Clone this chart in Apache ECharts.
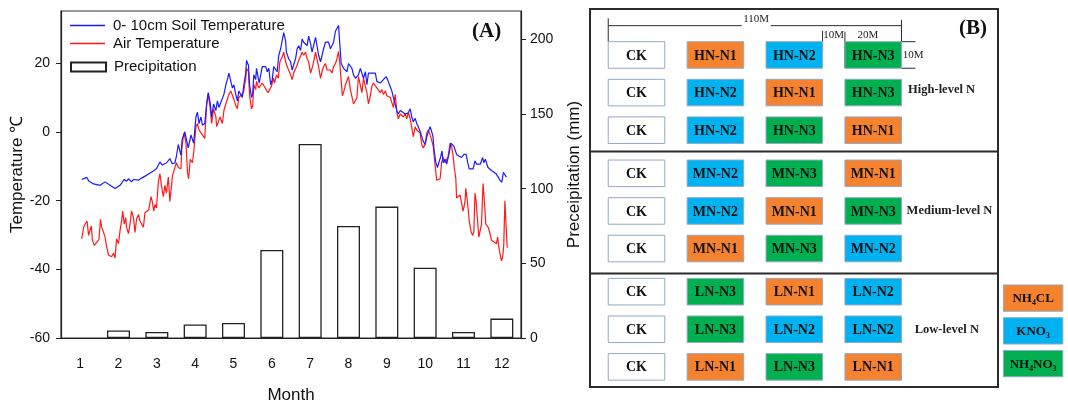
<!DOCTYPE html>
<html>
<head>
<meta charset="utf-8">
<script src="https://cdn.jsdelivr.net/npm/echarts@6/dist/echarts.min.js"></script>
<style>
html,body{margin:0;padding:0;background:#fff;}
#chart{width:1068px;height:409px;}
</style>
</head>
<body>
<div id="chart"></div>
<script>
// ---------------- Panel A data ----------------
const months = ['1','2','3','4','5','6','7','8','9','10','11','12'];
const precipitation = [0, 5, 4, 9, 10, 59, 130, 75, 88, 47, 4, 13]; // mm
const leftTicks = {min: -60, step: 20};
const rightTicks = {min: 0, step: 50};

// [month position, temperature °C]
const soilTemp = [
[1.04,-13.8],[1.17,-13.2],[1.23,-14.3],[1.35,-15.1],[1.52,-15.5],[1.65,-14.5],[1.82,-15.8],[1.91,-16.4],[2.04,-15.5],[2.15,-13.8],[2.21,-14.3],[2.26,-13.6],[2.34,-14.5],[2.39,-13.8],[2.52,-14.0],[2.60,-13.4],[2.73,-12.6],[2.91,-11.3],[2.99,-10.7],[3.08,-8.7],[3.14,-9.6],[3.25,-9.0],[3.34,-7.7],[3.40,-9.2],[3.47,-9.0],[3.51,-7.1],[3.56,-3.6],[3.63,-6.8],[3.66,-2.2],[3.73,0.1],[3.82,-4.6],[3.89,-0.8],[3.96,-3.2],[4.02,4.4],[4.06,5.8],[4.10,2.5],[4.15,4.4],[4.19,2.0],[4.25,2.5],[4.30,8.2],[4.34,11.5],[4.39,8.7],[4.43,4.4],[4.48,8.2],[4.54,6.3],[4.58,9.1],[4.62,7.2],[4.67,8.7],[4.71,8.2],[4.75,11.0],[4.80,13.8],[4.84,15.3],[4.88,17.2],[4.93,14.8],[4.97,12.9],[5.01,13.8],[5.06,11.0],[5.10,9.1],[5.14,12.0],[5.23,10.1],[5.27,13.8],[5.32,17.2],[5.34,20.9],[5.39,19.5],[5.42,13.8],[5.47,10.1],[5.50,11.0],[5.53,16.7],[5.58,15.3],[5.60,18.6],[5.67,14.3],[5.71,14.8],[5.75,19.1],[5.79,18.6],[5.84,19.1],[5.88,17.6],[5.92,18.6],[5.97,13.8],[6.01,15.3],[6.05,19.1],[6.10,19.5],[6.14,17.6],[6.18,22.4],[6.23,24.3],[6.31,29.0],[6.36,26.6],[6.38,23.3],[6.44,21.4],[6.49,20.5],[6.53,18.1],[6.62,21.4],[6.66,24.3],[6.70,25.2],[6.75,23.8],[6.79,27.1],[6.83,26.2],[6.92,25.2],[6.96,28.0],[7.01,25.7],[7.05,23.3],[7.14,27.6],[7.18,28.0],[7.22,22.4],[7.27,20.5],[7.35,24.3],[7.40,26.2],[7.48,26.2],[7.53,24.3],[7.61,26.2],[7.66,29.4],[7.74,31.1],[7.77,26.2],[7.81,20.0],[7.87,18.6],[7.96,17.6],[8.00,20.0],[8.09,18.6],[8.13,16.7],[8.18,15.7],[8.26,16.7],[8.31,18.6],[8.39,15.7],[8.44,17.6],[8.48,13.8],[8.52,17.2],[8.61,17.2],[8.70,17.2],[8.74,14.8],[8.83,14.3],[8.98,16.2],[9.02,15.3],[9.07,13.8],[9.13,12.0],[9.17,10.1],[9.26,6.3],[9.30,5.3],[9.35,6.3],[9.40,6.8],[9.48,5.3],[9.55,5.5],[9.61,6.8],[9.65,4.4],[9.69,3.0],[9.74,4.0],[9.78,2.5],[9.82,1.6],[9.87,0.1],[9.95,-2.7],[10.00,-3.6],[10.04,-1.5],[10.08,0.1],[10.13,1.6],[10.17,0.1],[10.20,-1.0],[10.23,-5.0],[10.28,-8.9],[10.32,-10.3],[10.37,-8.4],[10.40,-7.4],[10.44,-5.5],[10.47,-8.9],[10.52,-7.9],[10.56,-9.3],[10.63,-6.0],[10.67,-3.2],[10.72,-2.7],[10.75,-4.1],[10.82,-6.5],[10.89,-7.0],[10.95,-7.4],[11.01,-6.5],[11.07,-6.5],[11.11,-8.9],[11.15,-10.7],[11.20,-11.2],[11.25,-10.7],[11.30,-8.4],[11.34,-9.3],[11.38,-9.8],[11.44,-9.3],[11.50,-7.4],[11.53,-8.9],[11.57,-7.9],[11.61,-9.3],[11.64,-10.3],[11.69,-10.7],[11.73,-11.2],[11.85,-12.1],[11.95,-14.0],[12.00,-14.6],[12.04,-11.7],[12.12,-13.1]
];
const airTemp = [
[1.04,-31.1],[1.09,-27.8],[1.13,-26.8],[1.18,-25.9],[1.22,-30.1],[1.26,-30.6],[1.29,-27.3],[1.32,-31.5],[1.37,-33.0],[1.41,-33.4],[1.44,-32.0],[1.49,-31.3],[1.53,-25.4],[1.56,-27.7],[1.61,-29.2],[1.65,-30.6],[1.69,-33.4],[1.74,-35.8],[1.82,-36.3],[1.87,-35.3],[1.91,-36.7],[1.95,-31.1],[2.00,-32.5],[2.04,-28.7],[2.08,-25.9],[2.11,-23.0],[2.15,-26.8],[2.19,-24.9],[2.21,-27.7],[2.26,-29.6],[2.30,-26.8],[2.34,-23.0],[2.39,-24.9],[2.43,-29.2],[2.47,-25.4],[2.52,-24.0],[2.56,-25.9],[2.60,-25.4],[2.65,-27.7],[2.69,-23.5],[2.73,-23.0],[2.79,-22.6],[2.85,-18.8],[2.88,-20.2],[2.92,-23.0],[2.95,-21.1],[2.99,-22.1],[3.04,-14.5],[3.08,-12.1],[3.12,-15.5],[3.17,-18.8],[3.21,-15.5],[3.25,-17.8],[3.30,-13.1],[3.34,-20.2],[3.38,-15.9],[3.41,-12.6],[3.45,-12.1],[3.51,-8.9],[3.56,-10.3],[3.63,-10.7],[3.65,-5.0],[3.69,-1.3],[3.71,-0.3],[3.76,-3.2],[3.80,-11.7],[3.83,-13.6],[3.87,-7.9],[3.93,-8.9],[3.97,-5.0],[4.02,1.6],[4.06,2.5],[4.10,0.6],[4.19,-0.8],[4.25,-1.8],[4.30,8.2],[4.34,11.0],[4.39,7.2],[4.43,2.5],[4.48,6.8],[4.54,4.4],[4.56,1.6],[4.60,1.1],[4.65,4.4],[4.71,2.5],[4.75,6.3],[4.80,8.2],[4.84,8.7],[4.88,11.0],[4.93,12.0],[5.01,9.6],[5.06,7.7],[5.10,6.8],[5.14,10.1],[5.26,11.5],[5.32,15.7],[5.34,18.6],[5.39,17.6],[5.42,10.6],[5.47,6.8],[5.50,7.7],[5.53,13.8],[5.58,12.4],[5.60,14.8],[5.66,12.9],[5.75,14.3],[5.79,14.8],[5.90,11.5],[5.95,11.0],[5.99,13.4],[6.04,15.7],[6.07,14.3],[6.12,16.7],[6.17,15.7],[6.21,20.5],[6.27,21.9],[6.31,23.3],[6.36,20.5],[6.40,19.1],[6.49,16.7],[6.53,15.3],[6.57,17.2],[6.66,19.5],[6.70,20.9],[6.75,21.4],[6.79,23.3],[6.83,22.4],[6.88,23.3],[6.92,21.4],[6.96,20.5],[7.01,17.2],[7.05,18.6],[7.09,20.5],[7.14,23.3],[7.18,22.8],[7.22,19.1],[7.27,15.7],[7.31,17.6],[7.35,19.1],[7.40,20.0],[7.44,18.1],[7.53,18.1],[7.57,17.2],[7.61,19.1],[7.66,20.0],[7.70,21.4],[7.74,23.5],[7.77,20.5],[7.81,14.8],[7.84,10.6],[7.87,11.5],[7.92,13.8],[7.96,14.3],[8.00,16.2],[8.05,12.4],[8.09,12.0],[8.13,8.2],[8.18,7.7],[8.22,10.1],[8.26,16.2],[8.31,15.7],[8.35,11.5],[8.39,15.7],[8.44,16.2],[8.48,11.5],[8.52,8.2],[8.57,10.6],[8.61,13.4],[8.65,14.3],[8.70,14.8],[8.74,12.9],[8.83,11.5],[8.87,12.4],[8.91,11.0],[8.96,12.0],[9.00,10.6],[9.09,10.1],[9.13,9.6],[9.17,7.2],[9.22,11.0],[9.26,5.8],[9.30,3.9],[9.35,5.3],[9.43,4.4],[9.48,5.3],[9.52,3.9],[9.56,5.8],[9.61,3.9],[9.65,3.5],[9.69,-1.3],[9.74,1.6],[9.78,0.6],[9.87,-0.3],[9.91,-3.6],[9.95,-4.6],[10.00,-3.6],[10.04,-0.3],[10.08,0.6],[10.13,-0.8],[10.17,-1.3],[10.21,-4.1],[10.26,-9.8],[10.30,-14.0],[10.34,-14.5],[10.39,-13.6],[10.43,-8.9],[10.47,-7.4],[10.52,-8.9],[10.56,-9.3],[10.60,-7.0],[10.65,-3.2],[10.69,-4.1],[10.73,-7.0],[10.76,-10.3],[10.80,-13.6],[10.82,-19.2],[10.86,-19.2],[10.91,-18.3],[10.95,-20.7],[10.99,-23.0],[11.04,-20.2],[11.06,-16.4],[11.11,-21.1],[11.15,-25.9],[11.20,-29.2],[11.24,-30.1],[11.27,-29.0],[11.30,-17.8],[11.33,-20.0],[11.36,-24.9],[11.40,-30.6],[11.45,-30.6],[11.47,-26.8],[11.51,-15.0],[11.54,-19.2],[11.58,-26.8],[11.62,-27.3],[11.65,-27.8],[11.69,-29.6],[11.73,-31.5],[11.77,-31.9],[11.86,-32.5],[11.89,-30.6],[11.92,-33.4],[11.95,-35.3],[11.99,-37.5],[12.02,-36.5],[12.05,-33.0],[12.08,-20.0],[12.11,-27.1],[12.14,-33.7]
];

// ---------------- Panel B data ----------------
const plotRows = [
  ['CK','HN-N1','HN-N2','HN-N3'],
  ['CK','HN-N2','HN-N1','HN-N3'],
  ['CK','HN-N2','HN-N3','HN-N1'],
  ['CK','MN-N2','MN-N3','MN-N1'],
  ['CK','MN-N2','MN-N1','MN-N3'],
  ['CK','MN-N1','MN-N3','MN-N2'],
  ['CK','LN-N3','LN-N1','LN-N2'],
  ['CK','LN-N3','LN-N2','LN-N2'],
  ['CK','LN-N1','LN-N3','LN-N1']
];
const levelNames = ['High-level N','Medium-level N','Low-level N'];
const fertilizerNames = ['NH\u2084CL','KNO\u2083','NH\u2084NO\u2083']; // N1, N2, N3
const scaleLabels = {total:'110M', gap:'10M', plot:'20M', depth:'10M'};
const plotSizeM = {width:20, gap:10, total:110, depth:10};

// ---------------- layout (field units, metres) ----------------
const colPitch = plotSizeM.width + plotSizeM.gap;     // 30 M
const cellW = 21.5, cellH = 10.1;
const rowPitch = 14.3, groupPitch = 45;
const cx = c => c * colPitch + plotSizeM.width / 2;
const cy = r => Math.floor(r / 3) * groupPitch + (r % 3) * rowPitch + cellH / 2;
const fertColors = {N1:'#F5822F', N2:'#00B2EF', N3:'#00B050'};
const colorOf = lab => lab === 'CK' ? '#FFFFFF' : fertColors[lab.slice(-2)];

const cellData = [], cellLabels = [], cellColors = [];
plotRows.forEach((row, r) => row.forEach((lab, c) => {
  cellData.push([cx(c), cy(r)]); cellLabels.push(lab); cellColors.push(colorOf(lab));
}));
const legendX = 160.8;
fertilizerNames.forEach((lab, k) => {
  cellData.push([legendX, 97.5 + 12.45 * k]); cellLabels.push(lab); cellColors.push(fertColors['N' + (k + 1)]);
});

const xMinB = -7.68, xMaxB = 147.45, yMinB = -12.43, yMaxB = 131.3;
const leftEdge = cx(0) - cellW / 2, rightEdge = cx(3) + cellW / 2;
const barY = -6.1;
const divY = [41.8, 88.1];
const segData = [
  [leftEdge, barY, 50, barY], [61, barY, rightEdge, barY],
  [leftEdge, -8.9, leftEdge, 0], [rightEdge, -8.3, rightEdge, 0],
  [cx(2) + cellW / 2, -4.2, cx(2) + cellW / 2, 4.0],
  [cx(3) - cellW / 2, -3.8, cx(3) - cellW / 2, cellH],
  [rightEdge, 0, rightEdge + 5.3, 0], [rightEdge, cellH, rightEdge + 5.3, cellH],
  [xMinB, divY[0], xMaxB, divY[0]], [xMinB, divY[1], xMaxB, divY[1]]
];
const segWidths = [1,1,1,1,1,1,1,1,2,2];
const levelX = [126, 129, 128];
const textData = [], textLabels = [], textKinds = [];
textData.push([55.5, -8.4]); textLabels.push(scaleLabels.total); textKinds.push('c');
textData.push([85, -2.6]); textLabels.push(scaleLabels.gap); textKinds.push('c');
textData.push([98, -2.6]); textLabels.push(scaleLabels.plot); textKinds.push('c');
textData.push([rightEdge + 0.5, cellH / 2]); textLabels.push(scaleLabels.depth); textKinds.push('left');
levelNames.forEach((n, g) => { textData.push([levelX[g], cy(g * 3 + 1) - (g === 0 ? 1.2 : 0)]); textLabels.push(n); textKinds.push('l'); });

const chart = echarts.init(document.getElementById('chart'), null, {renderer:'canvas'});
const axisCol = '#222';
const option = {
  animation: false,
  backgroundColor: '#fff',
  textStyle: {fontFamily: 'Liberation Sans'},
  title: [
    {text:'(A)', left:472, top:21, padding:0, textStyle:{fontFamily:'Liberation Serif', fontWeight:'bold', fontSize:21, color:'#111'}},
    {text:'(B)', left:959, top:18.5, padding:0, textStyle:{fontFamily:'Liberation Serif', fontWeight:'bold', fontSize:21, color:'#111'}}
  ],
  legend: [
    {data:['0- 10cm Soil Temperature','Air Temperature'], orient:'vertical', left:70, top:17, padding:0,
     itemWidth:35, itemHeight:1.5, icon:'rect', itemGap:1, selectedMode:false,
     textStyle:{fontSize:15, color:'#111', lineHeight:17, padding:[0,0,0,3]}},
    {data:['Precipitation'], orient:'vertical', left:70, top:58.5, padding:0,
     itemWidth:35, itemHeight:9, icon:'rect', selectedMode:false,
     textStyle:{fontSize:15, color:'#111', lineHeight:17, padding:[0,0,0,3]}}
  ],
  grid: [
    {left:61, top:11, width:460, height:336, show:true, borderColor:'#333', borderWidth:1.2, backgroundColor:'transparent'},
    {left:590, top:9, width:408, height:378, show:true, borderColor:'#2b2b2b', borderWidth:2, backgroundColor:'transparent'}
  ],
  xAxis: [
    {type:'category', gridIndex:0, data:months, boundaryGap:true,
     axisLine:{onZero:false, lineStyle:{color:axisCol, width:1.2}},
     axisTick:{alignWithLabel:true, length:5, lineStyle:{color:axisCol}},
     axisLabel:{fontSize:14, color:'#111', margin:19},
     name:'Month', nameLocation:'middle', nameGap:49, nameTextStyle:{fontSize:17, color:'#111'}},
    {type:'value', gridIndex:0, min:0.5, max:12.5, show:false, axisLine:{onZero:false}},
    {type:'value', gridIndex:1, min:xMinB, max:xMaxB, show:false, axisLine:{onZero:false}}
  ],
  yAxis: [
    {type:'value', gridIndex:0, position:'left', min:leftTicks.min, max:35.3, interval:leftTicks.step,
     splitLine:{show:false}, axisLine:{show:true, onZero:false, lineStyle:{color:axisCol, width:1.2}},
     axisTick:{show:true, length:5, lineStyle:{color:axisCol}},
     axisLabel:{fontSize:14, color:'#111', margin:11, showMaxLabel:false},
     name:'Temperature \u2103', nameLocation:'middle', nameRotate:90, nameGap:23,
     nameTextStyle:{fontSize:17, color:'#111'}},
    {type:'value', gridIndex:0, position:'right', min:rightTicks.min, max:219, interval:rightTicks.step,
     splitLine:{show:false}, axisLine:{show:true, onZero:false, lineStyle:{color:axisCol, width:1.2}},
     axisTick:{show:true, length:5, lineStyle:{color:axisCol}},
     axisLabel:{fontSize:14, color:'#111', margin:9, showMaxLabel:false},
     name:'Preceipitation (mm)', nameLocation:'middle', nameRotate:90, nameGap:45,
     nameTextStyle:{fontSize:17, color:'#111'}},
    {type:'value', gridIndex:1, inverse:true, min:yMinB, max:yMaxB, show:false, axisLine:{onZero:false}}
  ],
  series: [
    {name:'Precipitation', type:'bar', xAxisIndex:0, yAxisIndex:1,
     data:precipitation.map(v => v === 0 ? null : v), barWidth:23,
     itemStyle:{color:'#fff', borderColor:'#222', borderWidth:1.3}, z:1},
    {name:'0- 10cm Soil Temperature', type:'line', xAxisIndex:1, yAxisIndex:0, data:soilTemp,
     symbol:'none', lineStyle:{color:'#1a1aff', width:1.2}, itemStyle:{color:'#1a1aff'}, z:3},
    {name:'Air Temperature', type:'line', xAxisIndex:1, yAxisIndex:0, data:airTemp,
     symbol:'none', lineStyle:{color:'#ff1a1a', width:1.2}, itemStyle:{color:'#ff1a1a'}, z:2},
    {type:'custom', xAxisIndex:2, yAxisIndex:2, data:segData, clip:false, silent:true,
     renderItem:(p, api) => {
       const a = api.coord([api.value(0), api.value(1)]);
       const b = api.coord([api.value(2), api.value(3)]);
       return {type:'line', shape:{x1:a[0], y1:a[1], x2:b[0], y2:b[1]},
               style:{stroke:'#2b2b2b', lineWidth:segWidths[p.dataIndex]}};
     }},
    {type:'custom', xAxisIndex:2, yAxisIndex:2, data:cellData, clip:false, silent:true,
     renderItem:(p, api) => {
       const c = api.coord([api.value(0), api.value(1)]);
       const isLegend = p.dataIndex >= plotRows.length * 4;
       const s = api.size([isLegend ? 22.6 : cellW, isLegend ? 10 : cellH]);
       return {type:'group', children:[
         {type:'rect', shape:{x:c[0]-s[0]/2, y:c[1]-s[1]/2, width:s[0], height:s[1]},
          style:{fill:cellColors[p.dataIndex], stroke:'#93A9C6', lineWidth:1}},
         {type:'text', x:c[0], y:c[1]+1,
          style:{text:cellLabels[p.dataIndex], fill:'#111', align:'center', verticalAlign:'middle',
                 font:'bold ' + (isLegend ? 13 : 14) + 'px "Liberation Serif"'}}
       ]};
     }},
    {type:'custom', xAxisIndex:2, yAxisIndex:2, data:textData, clip:false, silent:true,
     renderItem:(p, api) => {
       const c = api.coord([api.value(0), api.value(1)]);
       const kind = textKinds[p.dataIndex];
       return {type:'text', x:c[0], y:c[1],
               style:{text:textLabels[p.dataIndex], fill:'#222', align: kind === 'left' ? 'left' : 'center',
                      verticalAlign:'middle',
                      font:(kind === 'l' ? 'bold 12.5px' : '11px') + ' "Liberation Serif"'}};
     }}
  ]
};
chart.setOption(option);
</script>
</body>
</html>
